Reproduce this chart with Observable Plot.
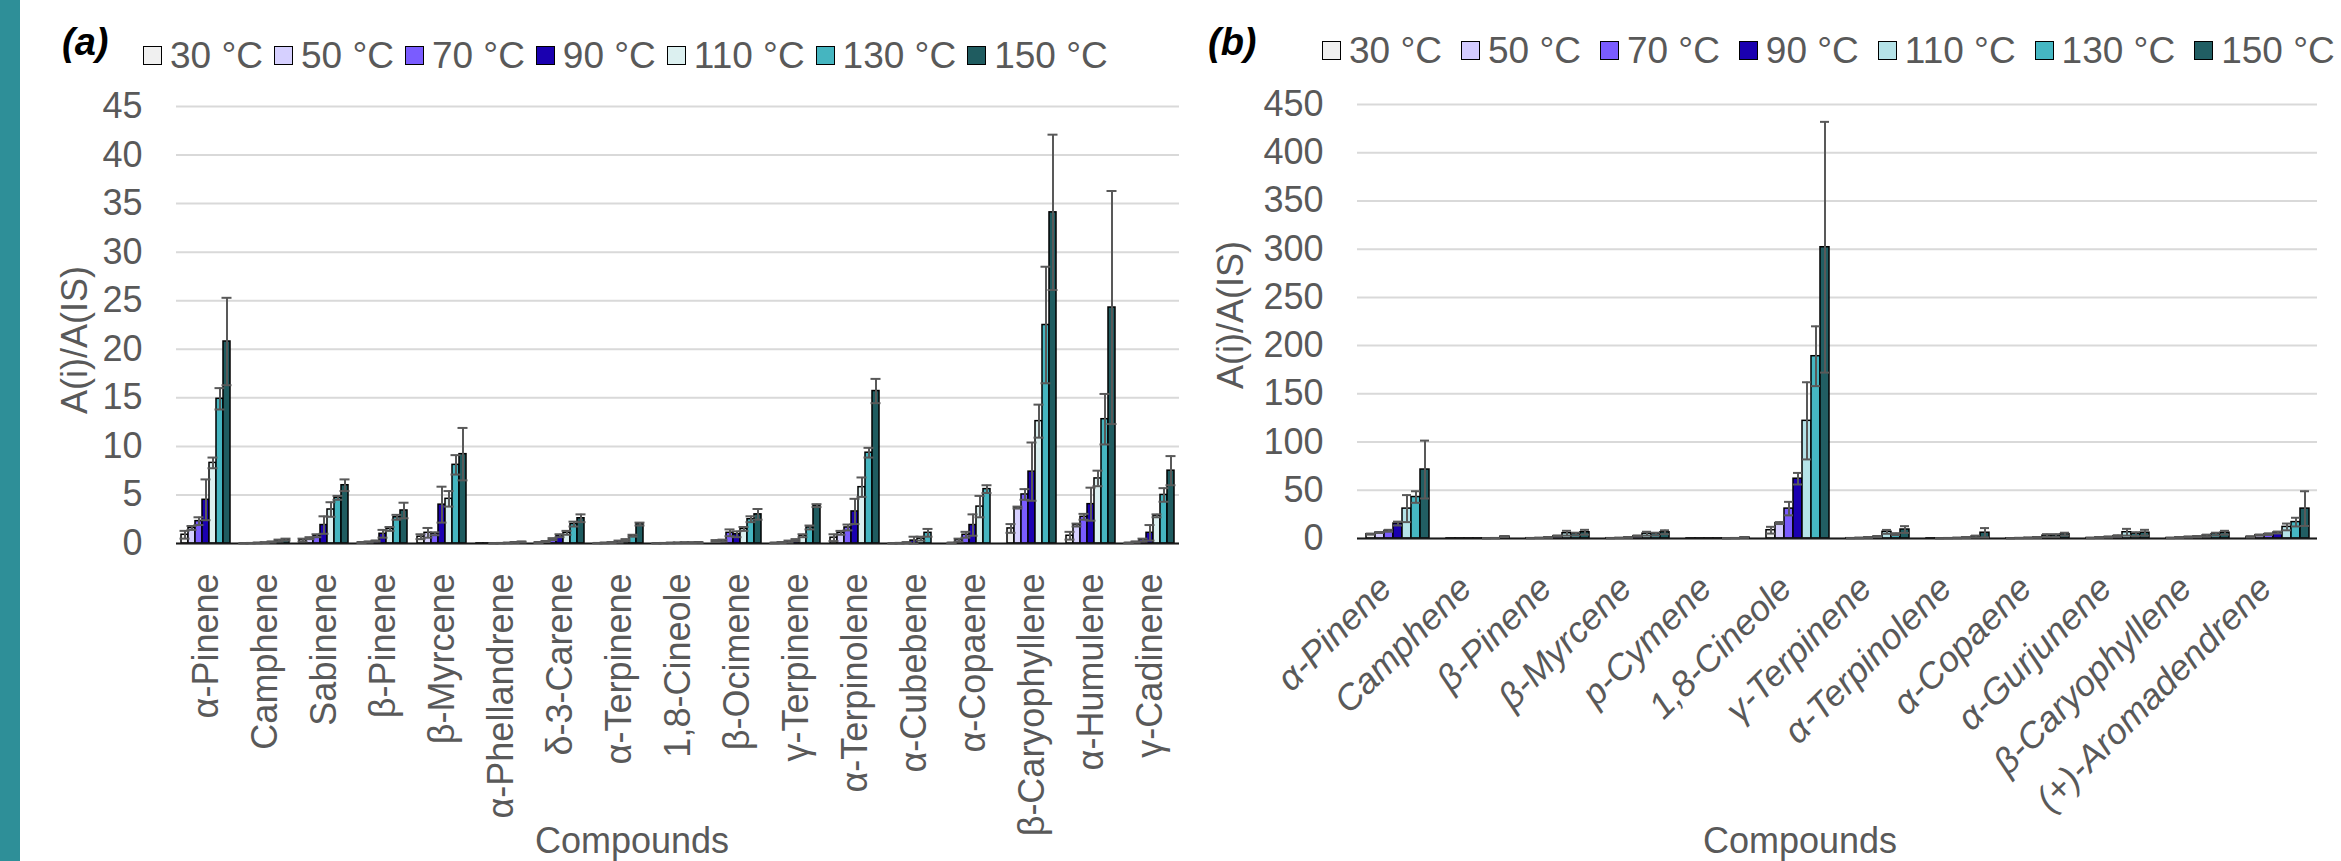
<!DOCTYPE html>
<html><head><meta charset="utf-8">
<script src="https://cdn.jsdelivr.net/npm/d3@7"></script>
<script src="https://cdn.jsdelivr.net/npm/@observablehq/plot@0.6"></script>
<style>
html,body{margin:0;padding:0;background:#fff;}
#page{position:relative;width:2341px;height:861px;overflow:hidden;font-family:"Liberation Sans",Arial,sans-serif;background:#fff;}
#stripe{position:absolute;left:0;top:0;width:20px;height:861px;background:#2e8f98;}
.panel{position:absolute;top:80px;}
.tag{position:absolute;font-weight:bold;font-style:italic;font-size:38px;line-height:1;color:#000;}
.legend{position:absolute;display:flex;align-items:center;font-size:37px;line-height:1;color:#595959;white-space:nowrap;}
.legend .item{display:flex;align-items:center;}
.legend .sw{width:17px;height:17px;border:1.5px solid #000;margin-right:8px;}
.ytitle{position:absolute;font-size:36px;line-height:1;color:#595959;transform:translate(-50%,-50%) rotate(-90deg);white-space:nowrap;}
.xtitle{position:absolute;font-size:36px;line-height:1;color:#595959;transform:translateX(-50%);white-space:nowrap;}
</style></head>
<body>
<div id="page">
  <div id="stripe"></div>
  <div class="tag" style="left:62px;top:23px;">(a)</div>
  <div class="tag" style="left:1208px;top:23px;">(b)</div>
  <div class="legend" id="legA" style="left:143px;top:37px;"></div>
  <div class="legend" id="legB" style="left:1322px;top:32px;"></div>
  <div class="ytitle" style="left:75px;top:340px;">A(i)/A(IS)</div>
  <div class="ytitle" style="left:1231px;top:315px;">A(i)/A(IS)</div>
  <div class="xtitle" style="left:632px;top:823px;">Compounds</div>
  <div class="xtitle" style="left:1800px;top:823px;">Compounds</div>
  <div class="panel" id="panelA" style="left:0px;"></div>
  <div class="panel" id="panelB" style="left:1200px;"></div>
</div>
<script>
// ---------- shared ----------
const temps = ["30 °C", "50 °C", "70 °C", "90 °C", "110 °C", "130 °C", "150 °C"];
const colorsA = ["#f0f0f0", "#d6d0ff", "#7a5cff", "#1a00b0", "#dcf0f0", "#45b5c0", "#1f5c60"];
const colorsB = ["#f0f0f0", "#d4ccff", "#7a5cff", "#1a00b0", "#b5e3e8", "#45b7c3", "#215e63"];

// ---------- panel (a) ----------
const compoundsA = ["α-Pinene", "Camphene", "Sabinene", "β-Pinene", "β-Myrcene", "α-Phellandrene", "δ-3-Carene", "α-Terpinene", "1,8-Cineole", "β-Ocimene", "γ-Terpinene", "α-Terpinolene", "α-Cubebene", "α-Copaene", "β-Caryophyllene", "α-Humulene", "γ-Cadinene"];
const yTicksA = [0, 5, 10, 15, 20, 25, 30, 35, 40, 45];
const a30  = [0.9, 0.02, 0.35, 0.1, 0.7, 0.01, 0.1, 0.03, 0.02, 0.25, 0.05, 0.6, 0.02, 0.05, 1.55, 0.8, 0.05];
const a50  = [1.6, 0.03, 0.55, 0.15, 1.1, 0.01, 0.2, 0.05, 0.03, 0.3, 0.1, 1.1, 0.03, 0.35, 3.7, 1.9, 0.15];
const a70  = [2.3, 0.05, 0.8, 0.25, 1.0, 0.02, 0.45, 0.1, 0.05, 1.1, 0.2, 1.65, 0.08, 0.9, 5.05, 2.75, 0.35];
const a90  = [4.5, 0.08, 1.9, 1.0, 4.0, 0.03, 0.8, 0.2, 0.06, 0.95, 0.35, 3.3, 0.3, 1.9, 7.4, 4.05, 1.1];
const a110 = [8.3, 0.15, 3.5, 1.5, 4.6, 0.05, 1.1, 0.35, 0.08, 1.5, 0.8, 5.8, 0.5, 3.8, 12.6, 6.7, 2.85];
const a130 = [14.9, 0.3, 4.7, 2.7, 8.1, 0.1, 2.0, 0.8, 0.08, 2.5, 1.65, 9.35, 1.1, 5.6, 22.5, 12.8, 5.0];
const a150 = [20.8, 0.4, 6.0, 3.4, 9.2, 0.15, 2.6, 2.0, 0.1, 3.0, 3.9, 15.7, 0, 0, 34.1, 24.3, 7.5];
const ea30  = [0.4, 0.02, 0.15, 0.05, 0.25, 0, 0.05, 0.02, 0.01, 0.1, 0.03, 0.35, 0.02, 0.03, 0.45, 0.4, 0.03];
const ea50  = [0.2, 0.02, 0.1, 0.05, 0.5, 0, 0.05, 0.03, 0.01, 0.1, 0.05, 0.2, 0.03, 0.15, 0.1, 0.15, 0.05];
const ea70  = [0.4, 0.03, 0.15, 0.05, 0.15, 0.01, 0.1, 0.05, 0.02, 0.35, 0.1, 0.3, 0.05, 0.3, 0.55, 0.3, 0.15];
const ea90  = [2.1, 0.03, 0.9, 0.4, 1.85, 0.01, 0.15, 0.1, 0.02, 0.3, 0.1, 1.3, 0.4, 1.1, 3.0, 1.7, 0.8];
const ea110 = [0.55, 0.05, 0.75, 0.2, 0.8, 0.02, 0.2, 0.1, 0.02, 0.2, 0.15, 1.0, 0.2, 1.1, 1.7, 0.8, 0.15];
const ea130 = [1.1, 0.1, 0.2, 0.25, 1.0, 0.03, 0.25, 0.1, 0.02, 0.3, 0.2, 0.5, 0.4, 0.4, 6.0, 2.6, 0.7];
const ea150 = [4.5, 0.1, 0.6, 0.8, 2.7, 0.05, 0.4, 0.15, 0.03, 0.55, 0.15, 1.25, 0, 0, 8.0, 12.0, 1.5];

// ---------- panel (b) ----------
const compoundsB = ["α-Pinene", "Camphene", "β-Pinene", "β-Myrcene", "p-Cymene", "1,8-Cineole", "γ-Terpinene", "α-Terpinolene", "α-Copaene", "α-Gurjunene", "β-Caryophyllene", "(+)-Aromadendrene"];
const yTicksB = [0, 50, 100, 150, 200, 250, 300, 350, 400, 450];
const b30  = [4.5, 0.1, 0.3, 0.3, 0.1, 8.6, 0.3, 0.1, 0.2, 0.5, 0.5, 1.7];
const b50  = [6.2, 0.1, 0.5, 0.5, 0.1, 16, 0.5, 0.2, 0.4, 1.0, 1.0, 3.5];
const b70  = [8, 0.1, 1.0, 1.0, 0.1, 31, 1.0, 0.3, 0.6, 1.5, 1.5, 4.5];
const b90  = [15.5, 0.1, 2.5, 2.5, 0.1, 62, 2.0, 0.5, 1.0, 2.5, 2.0, 6.2];
const b110 = [31, 0.2, 5.5, 5.0, 0.2, 122, 6.9, 1.0, 3.0, 6.5, 3.0, 12];
const b130 = [43, 0.3, 4.5, 4.5, 0.3, 189, 4.5, 2.0, 3.0, 4.5, 4.5, 17];
const b150 = [71.5, 2.0, 6.5, 6.5, 1.0, 302, 9.3, 6.0, 4.5, 6.0, 6.0, 31];
const eb30  = [0.5, 0, 0.1, 0.1, 0, 3.5, 0.1, 0, 0.1, 0.2, 0.2, 0.5];
const eb50  = [0.5, 0, 0.1, 0.1, 0, 1, 0.2, 0.1, 0.1, 0.3, 0.3, 0.5];
const eb70  = [1, 0, 0.2, 0.3, 0, 7, 0.3, 0.1, 0.2, 0.5, 0.5, 0.8];
const eb90  = [2, 0, 0.5, 0.5, 0, 6, 0.5, 0.2, 0.3, 0.8, 0.6, 1];
const eb110 = [14, 0.1, 2.5, 2, 0.1, 40, 2, 0.5, 1.5, 3.5, 1.0, 3.5];
const eb130 = [6, 0.1, 1.5, 1.5, 0.1, 31, 1, 1, 1.5, 2, 1.5, 4.5];
const eb150 = [30, 0.5, 2.5, 2, 0.3, 130, 3.5, 4.8, 1.5, 3, 2, 18];

function buildRows(compounds, means, errs) {
  return compounds.flatMap((c, i) => temps.map((t, j) => ({compound: c, temp: t, value: means[j][i], err: errs[j][i]})));
}
const rowsA = buildRows(compoundsA, [a30, a50, a70, a90, a110, a130, a150], [ea30, ea50, ea70, ea90, ea110, ea130, ea150]);
const rowsB = buildRows(compoundsB, [b30, b50, b70, b90, b110, b130, b150], [eb30, eb50, eb70, eb90, eb110, eb130, eb150]);

function makePanel(rows, compounds, colors, yMax, yTicks, opts) {
  const withErr = rows.filter(d => d.err > 0);
  return Plot.plot({
    width: opts.width, height: 781,
    marginLeft: opts.ml, marginRight: opts.mr, marginTop: opts.mt, marginBottom: opts.mb,
    style: {fontFamily: "'Liberation Sans', Arial, sans-serif", fontSize: "36px", color: "#595959", background: "transparent", overflow: "visible"},
    fx: {domain: compounds, padding: 0, label: null},
    x: {domain: temps, paddingInner: 0, paddingOuter: 0.7, axis: null},
    y: {domain: [0, yMax], ticks: yTicks, tickSize: 0, tickPadding: opts.tp, label: null},
    color: {domain: temps, range: colors},
    marks: [
      Plot.gridY({ticks: yTicks, stroke: "#d9d9d9", strokeOpacity: 1, strokeWidth: 2}),
      Plot.barY(rows, {fx: "compound", x: "temp", y: "value", fill: "temp", stroke: "#000", strokeWidth: 1.5}),
      Plot.ruleY([0], {stroke: "#1a1a1a", strokeWidth: 2}),
      Plot.ruleX(withErr, {fx: "compound", x: "temp", y1: d => Math.max(0, d.value - d.err), y2: d => d.value + d.err, stroke: "#595959", strokeWidth: 2}),
      Plot.tickY(withErr, {fx: "compound", x: "temp", y: d => d.value + d.err, stroke: "#595959", strokeWidth: 2, insetLeft: opts.cap, insetRight: opts.cap}),
      Plot.tickY(withErr, {fx: "compound", x: "temp", y: d => Math.max(0, d.value - d.err), stroke: "#595959", strokeWidth: 2, insetLeft: opts.cap, insetRight: opts.cap}),
      Plot.axisFx({anchor: "bottom", tickRotate: opts.rot, tickSize: 0, tickPadding: opts.fxPad, dx: opts.fxDx, fontStyle: opts.italic ? "italic" : "normal", label: null})
    ]
  });
}

document.getElementById("panelA").appendChild(makePanel(rowsA, compoundsA, colorsA, 45, yTicksA,
  {width: 1200, ml: 171, mr: 17, mt: 26, mb: 318, tp: 34, cap: -1.5, rot: -90, fxPad: 30, fxDx: 0, italic: false}));
document.getElementById("panelB").appendChild(makePanel(rowsB, compoundsB, colorsB, 450, yTicksB,
  {width: 1141, ml: 153, mr: 21, mt: 24, mb: 323, tp: 34, cap: 0, rot: -45, fxPad: 44, fxDx: -12, italic: true}));

function makeLegend(id, colors, gap) {
  const el = document.getElementById(id);
  temps.forEach((t, j) => {
    const item = document.createElement("div");
    item.className = "item";
    item.style.marginRight = gap + "px";
    const sw = document.createElement("div");
    sw.className = "sw";
    sw.style.background = colors[j];
    const tx = document.createElement("span");
    tx.textContent = t;
    item.appendChild(sw); item.appendChild(tx);
    el.appendChild(item);
  });
}
makeLegend("legA", colorsA, 11);
makeLegend("legB", colorsB, 19);
</script>
</body></html>
